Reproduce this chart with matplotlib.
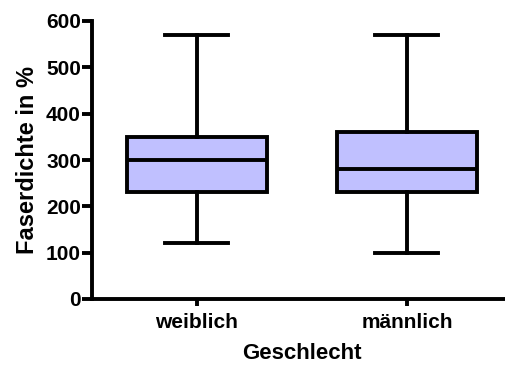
import matplotlib
matplotlib.use("Agg")
import matplotlib.pyplot as plt

categories = ["weiblich", "männlich"]
whisker_low = [120, 100]
q1 = [230, 232]
median = [300, 280]
q3 = [350, 360]
whisker_high = [570, 570]
y_ticks = [0, 100, 200, 300, 400, 500, 600]

plt.rcParams["font.family"] = ["Liberation Sans", "DejaVu Sans"]
plt.rcParams["font.weight"] = "bold"

fig = plt.figure(figsize=(5.06, 3.65), dpi=100)
ax = fig.add_axes([92 / 506, 66 / 365, 420 / 506, 278 / 365])

stats = []
for i, name in enumerate(categories):
    stats.append({
        "label": name,
        "whislo": whisker_low[i],
        "q1": q1[i],
        "med": median[i],
        "q3": q3[i],
        "whishi": whisker_high[i],
        "fliers": [],
    })

lw = 2.8
ax.bxp(
    stats,
    positions=[1, 2],
    widths=0.67,
    patch_artist=True,
    showfliers=False,
    boxprops=dict(facecolor="#C0C0FF", edgecolor="black", linewidth=lw),
    medianprops=dict(color="black", linewidth=lw),
    whiskerprops=dict(color="black", linewidth=lw),
    capprops=dict(color="black", linewidth=lw),
    capwidths=0.3,
)

ax.set_xlim(0.5, 2.5)
ax.set_ylim(0, 600)
ax.set_yticks(y_ticks)
ax.set_xticks([1, 2])
ax.set_xticklabels(categories)

for side in ("top", "right"):
    ax.spines[side].set_visible(False)
for side in ("left", "bottom"):
    ax.spines[side].set_linewidth(2.8)
ax.spines["bottom"].set_bounds(0.5, 2.5)

ax.tick_params(axis="y", length=7, width=2.8, labelsize=15, pad=1)
ax.tick_params(axis="x", length=5, width=2.8, labelsize=15, pad=5)

ax.set_ylabel("Faserdichte in %", fontsize=17, fontweight="bold", labelpad=5)
ax.set_xlabel("Geschlecht", fontsize=16, fontweight="bold", labelpad=8)

fig.savefig("out.png", dpi=100)
